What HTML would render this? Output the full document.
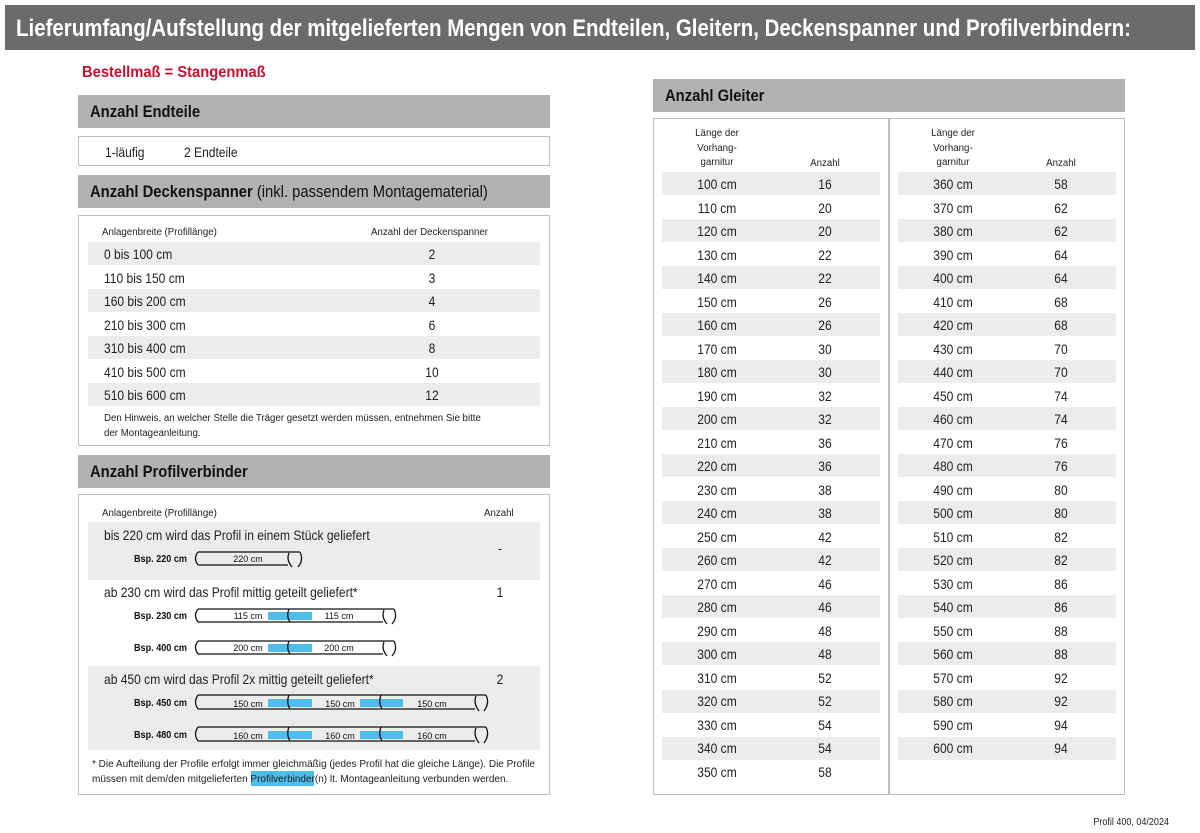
<!DOCTYPE html>
<html><head><meta charset="utf-8"><style>
*{margin:0;padding:0;box-sizing:border-box}
body{width:1200px;height:833px;background:#fff;position:relative;overflow:hidden;font-family:"Liberation Sans",sans-serif;color:#222}
.a{position:absolute;white-space:nowrap}
.hd{position:absolute;background:#b2b2b2;font-weight:bold;font-size:17px;color:#111;padding-left:12px;display:flex;align-items:center}
.hd span.in{display:inline-block;transform:scaleX(.87);transform-origin:0 50%}
.box{position:absolute;border:1.5px solid #bdbdbd}
.s{position:absolute;background:#ececec}
.t{position:absolute;font-size:14px;line-height:16px;white-space:nowrap;transform:scaleX(.86);transform-origin:0 0}
.c{transform:translateX(-50%) scaleX(.86);transform-origin:50% 0}
.sm{font-size:10px;transform:scaleX(.97)}
.sm.c{transform:translateX(-50%) scaleX(.97)}
</style></head><body>
<div class="a" style="left:5px;top:5px;width:1190px;height:45px;background:#6b6b6b"></div>
<svg class="a" style="left:0;top:0" width="1200" height="50"><text x="16" y="36" font-family="Liberation Sans, sans-serif" font-size="24" font-weight="bold" fill="#fff" textLength="1115" lengthAdjust="spacingAndGlyphs">Lieferumfang/Aufstellung der mitgelieferten Mengen von Endteilen, Gleitern, Deckenspanner und Profilverbindern:</text></svg>
<div class="a" style="left:82px;top:64px;font-size:16px;font-weight:bold;color:#c8102e;transform:scaleX(.92);transform-origin:0 0">Bestellmaß = Stangenmaß</div>

<div class="hd" style="left:78px;top:95px;width:472px;height:33px"><span class="in">Anzahl Endteile</span></div>
<div class="box" style="left:78px;top:136px;width:472px;height:30px"></div>
<div class="t" style="left:105px;top:144px">1-läufig</div><div class="t" style="left:184px;top:144px">2 Endteile</div>

<div class="hd" style="left:78px;top:175px;width:472px;height:33px"><span class="in">Anzahl Deckenspanner&nbsp;<span style="font-weight:normal">(inkl. passendem Montagematerial)</span></span></div>
<div class="box" style="left:78px;top:215px;width:472px;height:231px"></div>
<div class="t sm" style="left:102px;top:225px">Anlagenbreite (Profillänge)</div>
<div class="t sm" style="left:371px;top:225px">Anzahl der Deckenspanner</div>
<div class="s" style="left:88px;top:242px;width:452px;height:23px"></div>
<div class="s" style="left:88px;top:289px;width:452px;height:23px"></div>
<div class="s" style="left:88px;top:336px;width:452px;height:23px"></div>
<div class="s" style="left:88px;top:383px;width:452px;height:23px"></div>
<div class="t" style="left:104px;top:246px">0 bis 100 cm</div><div class="t c" style="left:432px;top:246px">2</div>
<div class="t" style="left:104px;top:270px">110 bis 150 cm</div><div class="t c" style="left:432px;top:270px">3</div>
<div class="t" style="left:104px;top:293px">160 bis 200 cm</div><div class="t c" style="left:432px;top:293px">4</div>
<div class="t" style="left:104px;top:317px">210 bis 300 cm</div><div class="t c" style="left:432px;top:317px">6</div>
<div class="t" style="left:104px;top:340px">310 bis 400 cm</div><div class="t c" style="left:432px;top:340px">8</div>
<div class="t" style="left:104px;top:364px">410 bis 500 cm</div><div class="t c" style="left:432px;top:364px">10</div>
<div class="t" style="left:104px;top:387px">510 bis 600 cm</div><div class="t c" style="left:432px;top:387px">12</div>
<div class="t sm" style="left:104px;top:411px;line-height:15px">Den Hinweis, an welcher Stelle die Träger gesetzt werden müssen, entnehmen Sie bitte<br>der Montageanleitung.</div>

<div class="hd" style="left:78px;top:455px;width:472px;height:33px"><span class="in">Anzahl Profilverbinder</span></div>
<div class="box" style="left:78px;top:494px;width:472px;height:301px"></div>
<div class="t sm" style="left:102px;top:506px">Anlagenbreite (Profillänge)</div>
<div class="t sm" style="left:484px;top:506px">Anzahl</div>
<div class="s" style="left:88px;top:522px;width:452px;height:58px"></div>
<div class="s" style="left:88px;top:666px;width:452px;height:84px"></div>
<div class="t" style="left:104px;top:527px">bis 220 cm wird das Profil in einem Stück geliefert</div><div class="t c" style="left:500px;top:540px">-</div>
<div class="t" style="left:104px;top:584px">ab 230 cm wird das Profil mittig geteilt geliefert*</div><div class="t c" style="left:500px;top:584px">1</div>
<div class="t" style="left:104px;top:671px">ab 450 cm wird das Profil 2x mittig geteilt geliefert*</div><div class="t c" style="left:500px;top:671px">2</div>
<svg class="a" style="left:0;top:0" width="600" height="800" font-family="Liberation Sans, sans-serif">
<g font-size="10" font-weight="bold" fill="#111">
<text x="134" y="562" textLength="53" lengthAdjust="spacingAndGlyphs">Bsp. 220 cm</text><text x="134" y="619" textLength="53" lengthAdjust="spacingAndGlyphs">Bsp. 230 cm</text><text x="134" y="651" textLength="53" lengthAdjust="spacingAndGlyphs">Bsp. 400 cm</text><text x="134" y="706" textLength="53" lengthAdjust="spacingAndGlyphs">Bsp. 450 cm</text><text x="134" y="738" textLength="53" lengthAdjust="spacingAndGlyphs">Bsp. 480 cm</text></g>
<g fill="#4dbde9"><rect x="268" y="612" width="44" height="8"/><rect x="268" y="644" width="44" height="8"/><rect x="268" y="699" width="44" height="8"/><rect x="360" y="699" width="43" height="8"/><rect x="268" y="731" width="44" height="8"/><rect x="360" y="731" width="43" height="8"/></g>
<g fill="none" stroke="#111" stroke-width="1.3">
<path d="M198 552 H300 M198 565 H288 M198 552 Q193 558 198 565 M289 553 Q286 560 292 567 M300 552 Q304 560 298 567"/>
<path d="M198 609 H394 M198 622 H383 M198 609 Q193 615 198 622 M289 609 Q286 616 290 622 M384 610 Q381 617 387 624 M394 609 Q398 617 392 624"/>
<path d="M198 641 H394 M198 654 H383 M198 641 Q193 647 198 654 M289 641 Q286 648 290 654 M384 642 Q381 649 387 656 M394 641 Q398 649 392 656"/>
<path d="M198 695 H486 M198 709 H475 M198 695 Q193 702 198 709 M289 695 Q286 702 290 709 M381 695 Q378 702 382 709 M476 696 Q473 703 479 711 M486 695 Q490 703 484 711"/>
<path d="M198 727 H486 M198 741 H475 M198 727 Q193 734 198 741 M289 727 Q286 734 290 741 M381 727 Q378 734 382 741 M476 728 Q473 735 479 743 M486 727 Q490 735 484 743"/>
</g>
<g font-size="9" fill="#111" text-anchor="middle">
<text x="248" y="562">220 cm</text><text x="248" y="619">115 cm</text><text x="339" y="619">115 cm</text><text x="248" y="651">200 cm</text><text x="339" y="651">200 cm</text>
<text x="248" y="707">150 cm</text><text x="340" y="707">150 cm</text><text x="432" y="707">150 cm</text>
<text x="248" y="739">160 cm</text><text x="340" y="739">160 cm</text><text x="432" y="739">160 cm</text></g>
</svg>
<div class="a" style="left:251px;top:771px;width:63px;height:15px;background:#4dbde9"></div>
<div class="t sm" style="left:92px;top:757px;line-height:15px;transform:none">* Die Aufteilung der Profile erfolgt immer gleichmäßig (jedes Profil hat die gleiche Länge). Die Profile<br>müssen mit dem/den mitgelieferten Profilverbinder(n) lt. Montageanleitung verbunden werden.</div>

<div class="hd" style="left:653px;top:79px;width:472px;height:33px"><span class="in">Anzahl Gleiter</span></div>
<div class="box" style="left:653px;top:118px;width:472px;height:677px"></div>
<div class="a" style="left:888px;top:119px;width:1.5px;height:675px;background:#bdbdbd"></div>
<div class="t sm c" style="left:717px;top:127px;text-align:center;line-height:14.5px">Länge der<br>Vorhang-<br>garnitur</div>
<div class="t sm c" style="left:825px;top:156px">Anzahl</div>
<div class="t sm c" style="left:953px;top:127px;text-align:center;line-height:14.5px">Länge der<br>Vorhang-<br>garnitur</div>
<div class="t sm c" style="left:1061px;top:156px">Anzahl</div>
<div style="position:absolute;left:0;top:0">
<div class="s" style="left:662px;top:172px;width:218px;height:23px"></div>
<div class="s" style="left:662px;top:219px;width:218px;height:23px"></div>
<div class="s" style="left:662px;top:266px;width:218px;height:23px"></div>
<div class="s" style="left:662px;top:313px;width:218px;height:23px"></div>
<div class="s" style="left:662px;top:360px;width:218px;height:23px"></div>
<div class="s" style="left:662px;top:407px;width:218px;height:23px"></div>
<div class="s" style="left:662px;top:454px;width:218px;height:23px"></div>
<div class="s" style="left:662px;top:501px;width:218px;height:23px"></div>
<div class="s" style="left:662px;top:548px;width:218px;height:23px"></div>
<div class="s" style="left:662px;top:595px;width:218px;height:23px"></div>
<div class="s" style="left:662px;top:642px;width:218px;height:23px"></div>
<div class="s" style="left:662px;top:690px;width:218px;height:23px"></div>
<div class="s" style="left:662px;top:737px;width:218px;height:23px"></div>
<div class="s" style="left:898px;top:172px;width:218px;height:23px"></div>
<div class="s" style="left:898px;top:219px;width:218px;height:23px"></div>
<div class="s" style="left:898px;top:266px;width:218px;height:23px"></div>
<div class="s" style="left:898px;top:313px;width:218px;height:23px"></div>
<div class="s" style="left:898px;top:360px;width:218px;height:23px"></div>
<div class="s" style="left:898px;top:407px;width:218px;height:23px"></div>
<div class="s" style="left:898px;top:454px;width:218px;height:23px"></div>
<div class="s" style="left:898px;top:501px;width:218px;height:23px"></div>
<div class="s" style="left:898px;top:548px;width:218px;height:23px"></div>
<div class="s" style="left:898px;top:595px;width:218px;height:23px"></div>
<div class="s" style="left:898px;top:642px;width:218px;height:23px"></div>
<div class="s" style="left:898px;top:690px;width:218px;height:23px"></div>
<div class="s" style="left:898px;top:737px;width:218px;height:23px"></div>
</div>
<div style="position:absolute;left:0;top:176px">
<div class="t c" style="left:717px;top:0px">100 cm</div><div class="t c" style="left:825px;top:0px">16</div>
<div class="t c" style="left:717px;top:23.5px">110 cm</div><div class="t c" style="left:825px;top:23.5px">20</div>
<div class="t c" style="left:717px;top:47px">120 cm</div><div class="t c" style="left:825px;top:47px">20</div>
<div class="t c" style="left:717px;top:70.5px">130 cm</div><div class="t c" style="left:825px;top:70.5px">22</div>
<div class="t c" style="left:717px;top:94px">140 cm</div><div class="t c" style="left:825px;top:94px">22</div>
<div class="t c" style="left:717px;top:117.5px">150 cm</div><div class="t c" style="left:825px;top:117.5px">26</div>
<div class="t c" style="left:717px;top:141px">160 cm</div><div class="t c" style="left:825px;top:141px">26</div>
<div class="t c" style="left:717px;top:164.5px">170 cm</div><div class="t c" style="left:825px;top:164.5px">30</div>
<div class="t c" style="left:717px;top:188px">180 cm</div><div class="t c" style="left:825px;top:188px">30</div>
<div class="t c" style="left:717px;top:211.5px">190 cm</div><div class="t c" style="left:825px;top:211.5px">32</div>
<div class="t c" style="left:717px;top:235px">200 cm</div><div class="t c" style="left:825px;top:235px">32</div>
<div class="t c" style="left:717px;top:258.5px">210 cm</div><div class="t c" style="left:825px;top:258.5px">36</div>
<div class="t c" style="left:717px;top:282px">220 cm</div><div class="t c" style="left:825px;top:282px">36</div>
<div class="t c" style="left:717px;top:305.5px">230 cm</div><div class="t c" style="left:825px;top:305.5px">38</div>
<div class="t c" style="left:717px;top:329px">240 cm</div><div class="t c" style="left:825px;top:329px">38</div>
<div class="t c" style="left:717px;top:352.5px">250 cm</div><div class="t c" style="left:825px;top:352.5px">42</div>
<div class="t c" style="left:717px;top:376px">260 cm</div><div class="t c" style="left:825px;top:376px">42</div>
<div class="t c" style="left:717px;top:399.5px">270 cm</div><div class="t c" style="left:825px;top:399.5px">46</div>
<div class="t c" style="left:717px;top:423px">280 cm</div><div class="t c" style="left:825px;top:423px">46</div>
<div class="t c" style="left:717px;top:446.5px">290 cm</div><div class="t c" style="left:825px;top:446.5px">48</div>
<div class="t c" style="left:717px;top:470px">300 cm</div><div class="t c" style="left:825px;top:470px">48</div>
<div class="t c" style="left:717px;top:493.5px">310 cm</div><div class="t c" style="left:825px;top:493.5px">52</div>
<div class="t c" style="left:717px;top:517px">320 cm</div><div class="t c" style="left:825px;top:517px">52</div>
<div class="t c" style="left:717px;top:540.5px">330 cm</div><div class="t c" style="left:825px;top:540.5px">54</div>
<div class="t c" style="left:717px;top:564px">340 cm</div><div class="t c" style="left:825px;top:564px">54</div>
<div class="t c" style="left:717px;top:587.5px">350 cm</div><div class="t c" style="left:825px;top:587.5px">58</div>
<div class="t c" style="left:953px;top:0px">360 cm</div><div class="t c" style="left:1061px;top:0px">58</div>
<div class="t c" style="left:953px;top:23.5px">370 cm</div><div class="t c" style="left:1061px;top:23.5px">62</div>
<div class="t c" style="left:953px;top:47px">380 cm</div><div class="t c" style="left:1061px;top:47px">62</div>
<div class="t c" style="left:953px;top:70.5px">390 cm</div><div class="t c" style="left:1061px;top:70.5px">64</div>
<div class="t c" style="left:953px;top:94px">400 cm</div><div class="t c" style="left:1061px;top:94px">64</div>
<div class="t c" style="left:953px;top:117.5px">410 cm</div><div class="t c" style="left:1061px;top:117.5px">68</div>
<div class="t c" style="left:953px;top:141px">420 cm</div><div class="t c" style="left:1061px;top:141px">68</div>
<div class="t c" style="left:953px;top:164.5px">430 cm</div><div class="t c" style="left:1061px;top:164.5px">70</div>
<div class="t c" style="left:953px;top:188px">440 cm</div><div class="t c" style="left:1061px;top:188px">70</div>
<div class="t c" style="left:953px;top:211.5px">450 cm</div><div class="t c" style="left:1061px;top:211.5px">74</div>
<div class="t c" style="left:953px;top:235px">460 cm</div><div class="t c" style="left:1061px;top:235px">74</div>
<div class="t c" style="left:953px;top:258.5px">470 cm</div><div class="t c" style="left:1061px;top:258.5px">76</div>
<div class="t c" style="left:953px;top:282px">480 cm</div><div class="t c" style="left:1061px;top:282px">76</div>
<div class="t c" style="left:953px;top:305.5px">490 cm</div><div class="t c" style="left:1061px;top:305.5px">80</div>
<div class="t c" style="left:953px;top:329px">500 cm</div><div class="t c" style="left:1061px;top:329px">80</div>
<div class="t c" style="left:953px;top:352.5px">510 cm</div><div class="t c" style="left:1061px;top:352.5px">82</div>
<div class="t c" style="left:953px;top:376px">520 cm</div><div class="t c" style="left:1061px;top:376px">82</div>
<div class="t c" style="left:953px;top:399.5px">530 cm</div><div class="t c" style="left:1061px;top:399.5px">86</div>
<div class="t c" style="left:953px;top:423px">540 cm</div><div class="t c" style="left:1061px;top:423px">86</div>
<div class="t c" style="left:953px;top:446.5px">550 cm</div><div class="t c" style="left:1061px;top:446.5px">88</div>
<div class="t c" style="left:953px;top:470px">560 cm</div><div class="t c" style="left:1061px;top:470px">88</div>
<div class="t c" style="left:953px;top:493.5px">570 cm</div><div class="t c" style="left:1061px;top:493.5px">92</div>
<div class="t c" style="left:953px;top:517px">580 cm</div><div class="t c" style="left:1061px;top:517px">92</div>
<div class="t c" style="left:953px;top:540.5px">590 cm</div><div class="t c" style="left:1061px;top:540.5px">94</div>
<div class="t c" style="left:953px;top:564px">600 cm</div><div class="t c" style="left:1061px;top:564px">94</div>
</div>
<div class="a" style="right:31px;top:817px;font-size:10px;transform:scaleX(.9);transform-origin:100% 0">Profil 400, 04/2024</div>
</body></html>
